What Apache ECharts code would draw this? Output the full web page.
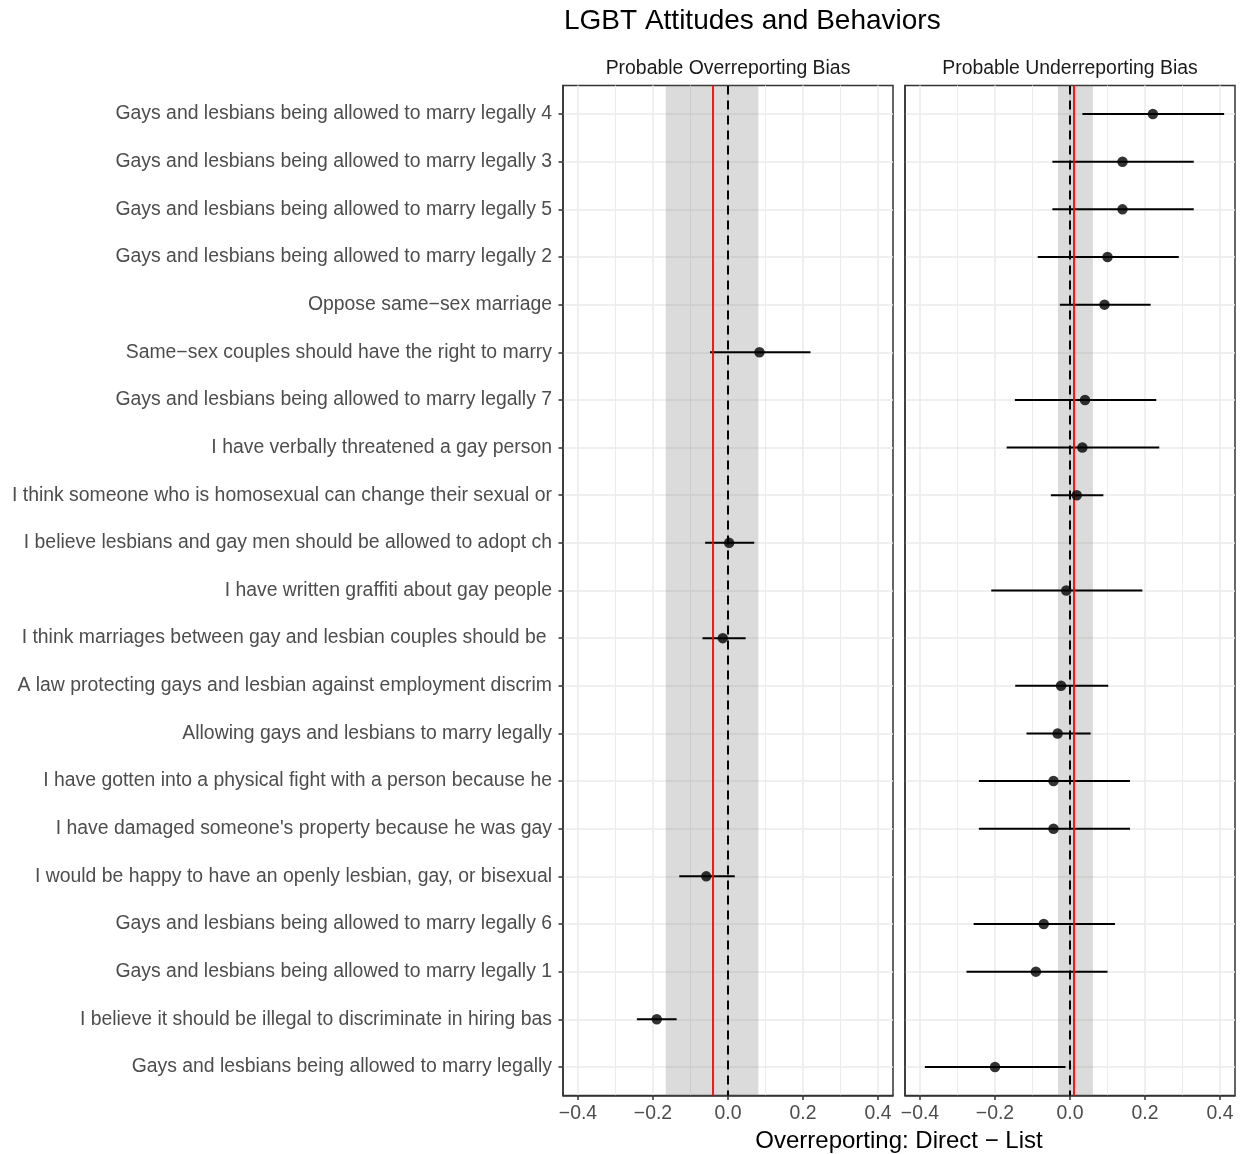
<!DOCTYPE html>
<html><head><meta charset="utf-8">
<script src="https://cdn.jsdelivr.net/npm/echarts@6/dist/echarts.min.js"></script>
<style>html,body{margin:0;padding:0;background:#fff}#c{width:1242px;height:1154px}</style>
</head><body><div id="c"></div>
<script>
// ---- data ----
const categories = [
  'Gays and lesbians being allowed to marry legally 4',
  'Gays and lesbians being allowed to marry legally 3',
  'Gays and lesbians being allowed to marry legally 5',
  'Gays and lesbians being allowed to marry legally 2',
  'Oppose same\u2212sex marriage',
  'Same\u2212sex couples should have the right to marry',
  'Gays and lesbians being allowed to marry legally 7',
  'I have verbally threatened a gay person',
  'I think someone who is homosexual can change their sexual or',
  'I believe lesbians and gay men should be allowed to adopt ch',
  'I have written graffiti about gay people',
  'I think marriages between gay and lesbian couples should be ',
  'A law protecting gays and lesbian against employment discrim',
  'Allowing gays and lesbians to marry legally',
  'I have gotten into a physical fight with a person because he',
  "I have damaged someone's property because he was gay",
  'I would be happy to have an openly lesbian, gay, or bisexual',
  'Gays and lesbians being allowed to marry legally 6',
  'Gays and lesbians being allowed to marry legally 1',
  'I believe it should be illegal to discriminate in hiring bas',
  'Gays and lesbians being allowed to marry legally'
];
const panelTitles = ['Probable Overreporting Bias', 'Probable Underreporting Bias'];

// Panel 1: Probable Overreporting Bias
const overItems = [
  'Same\u2212sex couples should have the right to marry',
  'I believe lesbians and gay men should be allowed to adopt ch',
  'I think marriages between gay and lesbian couples should be ',
  'I would be happy to have an openly lesbian, gay, or bisexual',
  'I believe it should be illegal to discriminate in hiring bas'
];
const overEst = [0.084, 0.003, -0.014, -0.058, -0.190];
const overLo  = [-0.048, -0.061, -0.068, -0.130, -0.243];
const overHi  = [0.220, 0.070, 0.047, 0.018, -0.137];
const overRef = -0.042;
const overBand = [-0.166, 0.081];

// Panel 2: Probable Underreporting Bias
const underItems = [
  'Gays and lesbians being allowed to marry legally 4',
  'Gays and lesbians being allowed to marry legally 3',
  'Gays and lesbians being allowed to marry legally 5',
  'Gays and lesbians being allowed to marry legally 2',
  'Oppose same\u2212sex marriage',
  'Gays and lesbians being allowed to marry legally 7',
  'I have verbally threatened a gay person',
  'I think someone who is homosexual can change their sexual or',
  'I have written graffiti about gay people',
  'A law protecting gays and lesbian against employment discrim',
  'Allowing gays and lesbians to marry legally',
  'I have gotten into a physical fight with a person because he',
  "I have damaged someone's property because he was gay",
  'Gays and lesbians being allowed to marry legally 6',
  'Gays and lesbians being allowed to marry legally 1',
  'Gays and lesbians being allowed to marry legally'
];
const underEst = [0.221, 0.140, 0.140, 0.100, 0.092, 0.040, 0.033, 0.018, -0.010, -0.024, -0.033, -0.044, -0.044, -0.070, -0.091, -0.200];
const underLo  = [0.033, -0.047, -0.047, -0.086, -0.027, -0.147, -0.169, -0.051, -0.210, -0.146, -0.116, -0.243, -0.243, -0.257, -0.276, -0.387];
const underHi  = [0.411, 0.330, 0.330, 0.290, 0.215, 0.230, 0.238, 0.089, 0.193, 0.102, 0.055, 0.160, 0.160, 0.120, 0.100, -0.012];
const underRef = 0.015;
const underBand = [-0.032, 0.061];

const xMajorTicks = [-0.4, -0.2, 0, 0.2, 0.4];
const xMinorTicks = [-0.3, -0.1, 0.1, 0.3];
const xRange = [-0.44, 0.44];
const yRange = [-0.6, 20.6];

// ---- chart ----
const FONT = 'Liberation Sans, Arial, Helvetica, sans-serif';
const catIdx = categories.map((c, i) => i);
const fmtX = v => (v < 0 ? '\u2212' : '') + Math.abs(v).toFixed(1);
const frameColor = '#333333';
const frameWidth = 1.5;

const grids = [
  {left: 563, top: 85.5, width: 330, height: 1010},
  {left: 905, top: 85.5, width: 330, height: 1010}
];
grids.forEach(g => { g.show = true; g.borderColor = frameColor; g.borderWidth = frameWidth; g.backgroundColor = 'transparent'; });

function xAxisFor(i) {
  return {
    type: 'value', gridIndex: i, min: xRange[0], max: xRange[1],
    axisLine: {show: true, onZero: false, lineStyle: {color: frameColor, width: frameWidth}},
    axisTick: {show: true, length: 4.5, customValues: xMajorTicks, lineStyle: {color: frameColor, width: frameWidth}},
    axisLabel: {show: true, customValues: xMajorTicks, formatter: fmtX, color: '#4d4d4d', fontSize: 19.4, fontFamily: FONT, margin: 9},
    splitLine: {show: false}
  };
}
function yAxisFor(i) {
  return {
    type: 'value', gridIndex: i, min: yRange[0], max: yRange[1], inverse: true,
    axisLine: {show: true, onZero: false, lineStyle: {color: frameColor, width: frameWidth}},
    axisTick: {show: i === 0, length: 4.5, customValues: catIdx, lineStyle: {color: frameColor, width: frameWidth}},
    axisLabel: {show: i === 0, customValues: catIdx, formatter: v => categories[v], color: '#4d4d4d', fontSize: 19.4, fontFamily: FONT, margin: 11, padding: [3, 0, 0, 0]},
    splitLine: {show: false}
  };
}

const gridColor = '#ebebeb';
function helperSeries(i, ref, band) {
  const gl = [];
  xMinorTicks.forEach(v => gl.push({xAxis: v, lineStyle: {color: gridColor, width: 1.0, type: 'solid'}}));
  xMajorTicks.forEach(v => gl.push({xAxis: v, lineStyle: {color: gridColor, width: 1.6, type: 'solid'}}));
  catIdx.forEach(v => gl.push({yAxis: v, lineStyle: {color: gridColor, width: 1.6, type: 'solid'}}));
  return [
    { // grid lines
      type: 'line', xAxisIndex: i, yAxisIndex: i, data: [], silent: true,
      markLine: {silent: true, symbol: ['none', 'none'], label: {show: false}, z: 0, animation: false, data: gl}
    },
    { // band
      type: 'line', xAxisIndex: i, yAxisIndex: i, data: [], silent: true,
      markArea: {silent: true, z: 1, itemStyle: {color: 'rgba(127,127,127,0.28)'}, label: {show: false},
        data: [[{xAxis: band[0]}, {xAxis: band[1]}]]}
    },
    { // reference lines
      type: 'line', xAxisIndex: i, yAxisIndex: i, data: [], silent: true,
      markLine: {silent: true, symbol: ['none', 'none'], label: {show: false}, z: 3, animation: false,
        data: [
          {xAxis: 0, lineStyle: {color: '#000000', width: 2, type: [9, 6]}},
          {xAxis: ref, lineStyle: {color: '#ff0000', width: 1.8, type: 'solid'}}
        ]}
    }
  ];
}

function panelSeries(i, items, est, lo, hi) {
  return [
    {
      type: 'custom', xAxisIndex: i, yAxisIndex: i, z: 2, silent: true,
      data: items.map((c, k) => [lo[k], hi[k], categories.indexOf(c)]),
      encode: {x: [0, 1], y: 2},
      renderItem: (params, api) => {
        const a = api.coord([api.value(0), api.value(2)]);
        const b = api.coord([api.value(1), api.value(2)]);
        return {type: 'line', shape: {x1: a[0], y1: a[1], x2: b[0], y2: b[1]}, style: {stroke: '#000', lineWidth: 2}};
      }
    },
    {
      type: 'scatter', xAxisIndex: i, yAxisIndex: i, z: 4, silent: true,
      symbol: 'circle', symbolSize: 10.5, itemStyle: {color: '#000000'},
      data: items.map((c, k) => [est[k], categories.indexOf(c)])
    }
  ];
}

const option = {
  animation: false,
  backgroundColor: '#ffffff',
  title: [
    {text: 'LGBT Attitudes and Behaviors', left: 564, top: 7, padding: 0, textStyle: {fontFamily: FONT, fontSize: 28, fontWeight: 'normal', color: '#000000'}},
    {text: panelTitles[0], left: 728, top: 59, padding: 0, textAlign: 'center', textStyle: {fontFamily: FONT, fontSize: 19.4, fontWeight: 'normal', color: '#1a1a1a'}},
    {text: panelTitles[1], left: 1070, top: 59, padding: 0, textAlign: 'center', textStyle: {fontFamily: FONT, fontSize: 19.4, fontWeight: 'normal', color: '#1a1a1a'}},
    {text: 'Overreporting: Direct \u2212 List', left: 899, top: 1129, padding: 0, textAlign: 'center', textStyle: {fontFamily: FONT, fontSize: 24, fontWeight: 'normal', color: '#000000'}}
  ],
  grid: grids,
  xAxis: [xAxisFor(0), xAxisFor(1)],
  yAxis: [yAxisFor(0), yAxisFor(1)],
  series: [].concat(
    helperSeries(0, overRef, overBand),
    helperSeries(1, underRef, underBand),
    panelSeries(0, overItems, overEst, overLo, overHi),
    panelSeries(1, underItems, underEst, underLo, underHi)
  )
};
const chart = echarts.init(document.getElementById('c'), null, {renderer: 'canvas'});
chart.setOption(option);
</script>
</body></html>
